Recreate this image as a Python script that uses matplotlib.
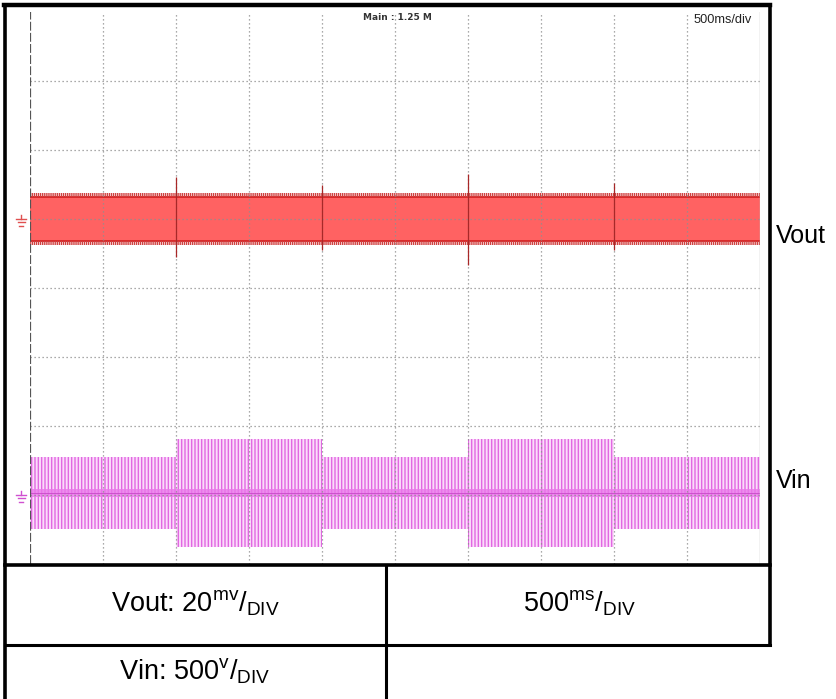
import matplotlib
matplotlib.use("Agg")
import matplotlib.pyplot as plt
import numpy as np

plt.rcParams['font.family'] = ['Liberation Sans', 'DejaVu Sans']
plt.rcParams['mathtext.fontset'] = 'custom'
plt.rcParams['mathtext.rm'] = 'Liberation Sans'
plt.rcParams['mathtext.it'] = 'Liberation Sans'
plt.rcParams['hatch.linewidth'] = 1.0

# ---------------- data (in screen divisions) ----------------
time_div_edges = [0, 2, 4, 6, 8, 10]          # Vin amplitude segments
vin_amplitude = [0.52, 0.78, 0.52, 0.78, 0.52]
vin_offset = -2.97
vin_ground = -3.0

vout_offset = 1.0
vout_halfwidth = 0.32
vout_ground = 1.0
spike_x = [2.0, 4.0, 6.0, 8.0]
spike_top = [1.61, 1.49, 1.65, 1.52]
spike_bottom = [0.45, 0.55, 0.33, 0.55]

x_divisions = 10
y_divisions = 8

table_left = ["Vout: 20$^{\\mathrm{mv}}$/$_{\\mathrm{DIV}}$", "Vin: 500$^{\\mathrm{v}}$/$_{\\mathrm{DIV}}$"]
table_right = "500$^{\\mathrm{ms}}$/$_{\\mathrm{DIV}}$"

# ---------------- figure ----------------
W, H = 837, 699
fig = plt.figure(figsize=(W / 100, H / 100), dpi=100)

def px_axes(x0, y0, x1, y1):
    return [x0 / W, (H - y1) / H, (x1 - x0) / W, (y1 - y0) / H]

ax = fig.add_axes(px_axes(30, 12, 760, 564))
ax.set_xlim(0, x_divisions)
ax.set_ylim(-y_divisions / 2, y_divisions / 2)
for s in ax.spines.values():
    s.set_visible(False)
ax.set_xticks(range(1, x_divisions))
ax.set_yticks(range(-y_divisions // 2 + 1, y_divisions // 2))
ax.tick_params(length=0, labelbottom=False, labelleft=False)
ax.grid(True, linestyle=(0, (1, 2.2)), color='#8f8f8f', linewidth=0.9)
ax.set_axisbelow(False)

# left dashed and right solid borders of the graticule
ax.axvline(0, color='#555555', linestyle=(0, (4, 1)), linewidth=1.6, zorder=4)
ax.axvline(x_divisions, color='#c0c0c0', linewidth=1.0, zorder=4)

# ---- Vout (red) ----
xs = np.array([0, x_divisions])
top = vout_offset + vout_halfwidth
bot = vout_offset - vout_halfwidth
ax.fill_between(xs, bot, top, facecolor='#ff6262', linewidth=0, zorder=2)
ax.fill_between(xs, top - 0.015, top + 0.01, facecolor='#d92a2a', linewidth=0, zorder=2)
ax.fill_between(xs, bot - 0.01, bot + 0.015, facecolor='#d92a2a', linewidth=0, zorder=2)
ax.fill_between(xs, top, top + 0.05, facecolor='none', edgecolor='#d04040',
                hatch='||||||||', linewidth=0, zorder=2)
ax.fill_between(xs, bot - 0.06, bot, facecolor='none', edgecolor='#d04040',
                hatch='||||||||', linewidth=0, zorder=2)
ax.vlines(spike_x, spike_bottom, spike_top, color='#a82828', linewidth=0.9, zorder=3)

# ---- Vin (magenta) ----
for i, amp in enumerate(vin_amplitude):
    seg = np.array([time_div_edges[i], time_div_edges[i + 1]])
    ax.fill_between(seg, vin_offset - amp, vin_offset + amp,
                    facecolor='#fbdcfb', edgecolor='#e268e2', hatch='|||||',
                    linewidth=0, zorder=2)
ax.fill_between(xs, vin_offset - 0.06, vin_offset + 0.06,
                facecolor='#ea78ea', linewidth=0, alpha=0.8, zorder=2)
ax.plot(xs, [vin_offset, vin_offset], color='#c848c8', linewidth=0.6, zorder=2)

# ground markers
def ground(y, color):
    xg = -0.12
    ax.plot([xg - 0.07, xg + 0.07], [y, y], color=color, lw=1.0, clip_on=False)
    ax.plot([xg - 0.05, xg + 0.05], [y - 0.05, y - 0.05], color=color, lw=1.0, clip_on=False)
    ax.plot([xg - 0.03, xg + 0.03], [y - 0.10, y - 0.10], color=color, lw=1.0, clip_on=False)
    ax.plot([xg, xg], [y, y + 0.06], color=color, lw=1.0, clip_on=False)

ground(vout_ground, '#e05050')
ground(vin_ground, '#d050d0')

# ---------------- overlay: frame, table and texts ----------------
ov = fig.add_axes([0, 0, 1, 1], zorder=5)
ov.set_xlim(0, W)
ov.set_ylim(H, 0)
ov.axis('off')
ov.patch.set_visible(False)

k = dict(color='black', solid_capstyle='projecting')
ov.plot([4, 770], [5, 5], lw=3.2, **k)        # top
ov.plot([5, 5], [5, 699], lw=2.6, **k)        # left
ov.plot([770, 770], [5, 645], lw=2.6, **k)    # right
ov.plot([5, 770], [565, 565], lw=2.6, **k)    # scope bottom
ov.plot([5, 770], [645, 645], lw=2.2, **k)    # row divider
ov.plot([386, 386], [565, 699], lw=2.2, **k)  # column divider

ov.text(397, 17, "Main : 1.25 M", fontsize=6.5, fontweight='bold',
        family='DejaVu Sans', color='#333333', ha='center', va='center')
ov.text(723, 20, "500ms/div", fontsize=9.2, color='#222222', ha='center', va='center')

ov.text(776, 243, "Vout", fontsize=18, ha='left', va='baseline')
ov.text(776, 488, "Vin", fontsize=18, ha='left', va='baseline')

ov.text(195, 611, table_left[0], fontsize=19.5, ha='center', va='baseline')
ov.text(579, 611, table_right, fontsize=19.5, ha='center', va='baseline')
ov.text(195, 680, table_left[1], fontsize=19.5, ha='center', va='baseline')

fig.savefig("out.png", dpi=100)
